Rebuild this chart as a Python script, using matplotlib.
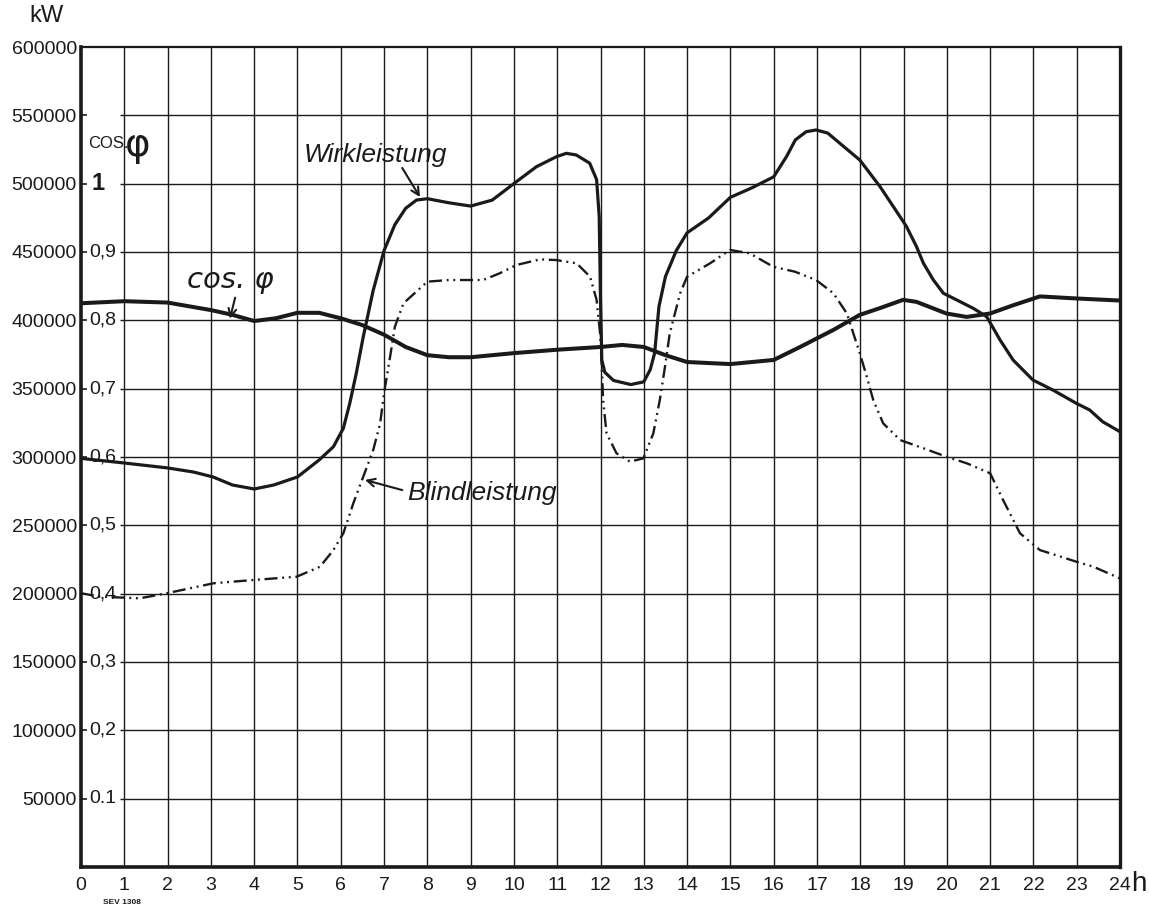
import matplotlib
matplotlib.use("Agg")
import matplotlib.pyplot as plt

plt.rcParams['font.family'] = ['Liberation Sans', 'DejaVu Sans']

# ---- data ----
wirk_h = [0, 1, 2, 2.6, 3.05, 3.5, 4.0, 4.45, 5.0, 5.5, 5.83, 6.06, 6.21, 6.36, 6.52, 6.75,
          7.0, 7.25, 7.5, 7.75, 8.0, 8.5, 9.0, 9.5, 10.06, 10.52, 10.98, 11.21, 11.44, 11.75,
          11.91, 11.97, 12.0, 12.03, 12.1, 12.3, 12.7, 13.0, 13.15, 13.25, 13.35, 13.5, 13.75,
          14.0, 14.5, 15.0, 15.5, 16.0, 16.3, 16.5, 16.75, 16.98, 17.25, 17.53, 17.99, 18.46,
          18.92, 19.07, 19.3, 19.46, 19.69, 19.92, 20.23, 20.61, 20.92, 21.23, 21.53, 21.99,
          22.45, 22.99, 23.3, 23.6, 24.0]
wirk_kw = [299000, 295600, 292000, 289000, 285400, 279500, 276600, 279500, 285400, 297800,
           307500, 321000, 339500, 361500, 388000, 422000, 451000, 470000, 482000, 488000,
           489000, 486000, 483600, 488000, 501500, 512400, 519700, 522200, 521000, 515000,
           503000, 476000, 415000, 371000, 362000, 356000, 353000, 355000, 364000, 376000,
           410000, 432000, 451000, 464000, 475000, 490000, 497000, 505000, 520000, 532000,
           538000, 539300, 537000, 529500, 517300, 497700, 475800, 468500, 453900, 441700,
           429500, 419800, 414900, 408800, 402700, 385600, 371000, 356300, 349000, 339300,
           334400, 325800, 318500]

blind_h = [0, 0.44, 1.36, 1.98, 3.06, 3.98, 4.98, 5.52, 5.83, 6.06, 6.29, 6.52, 6.75, 6.91,
           7.0, 7.14, 7.25, 7.45, 8.0, 8.5, 9.29, 9.67, 10.06, 10.6, 10.98, 11.45, 11.76,
           11.91, 11.99, 12.03, 12.06, 12.14, 12.37, 12.68, 12.99, 13.22, 13.37, 13.49, 13.6,
           13.84, 14.0, 14.53, 14.99, 15.45, 15.99, 16.49, 16.98, 17.38, 17.69, 17.84, 17.99,
           18.15, 18.3, 18.53, 18.92, 19.46, 19.99, 20.46, 21.0, 21.3, 21.69, 22.15, 22.99,
           23.38, 23.99]
blind_kw = [200300, 197800, 196600, 200300, 207600, 210000, 212400, 219700, 231900, 244200,
            266100, 285600, 305100, 324600, 346600, 373400, 395300, 412500, 428300, 429500,
            429500, 434400, 440500, 444600, 444100, 441700, 431900, 414900, 390500, 366100,
            341700, 317300, 302700, 296600, 299000, 317300, 341700, 366100, 390500, 419800,
            431900, 441700, 451500, 449000, 439200, 435600, 429500, 419800, 405100, 390500,
            375900, 358800, 341700, 324600, 312400, 306400, 300200, 295400, 288100, 268500,
            244200, 231900, 223400, 219800, 211300]

cos_h = [0, 1, 2, 3, 3.5, 4, 4.5, 5, 5.5, 6, 6.5, 7, 7.5, 8, 8.5, 9, 10, 11, 12, 12.5, 13,
         13.5, 14, 15, 16, 16.61, 17.38, 17.99, 18.46, 18.99, 19.3, 19.99, 20.46, 21.0, 21.53,
         22.15, 22.99, 23.99]
cos_v = [0.825, 0.828, 0.826, 0.815, 0.808, 0.799, 0.803, 0.811, 0.811, 0.803, 0.793, 0.779,
         0.761, 0.749, 0.746, 0.746, 0.752, 0.757, 0.761, 0.764, 0.761, 0.749, 0.739, 0.736,
         0.742, 0.761, 0.786, 0.808, 0.818, 0.830, 0.827, 0.810, 0.805, 0.810, 0.822, 0.835,
         0.832, 0.829]

hour_ticks = list(range(0, 25))
kw_ticks = list(range(50000, 600001, 50000))
kw_labels = ['50000', '100000', '150000', '200000', '250000', '300000', '350000',
             '400000', '450000', '500000', '550000', '600000']
cos_ticks = [0.1, 0.2, 0.3, 0.4, 0.5, 0.6, 0.7, 0.8, 0.9, 1.0]
cos_labels = ['0.1', '0,2', '0,3', '0,4', '0,5', '0,6', '0,7', '0,8', '0,9', '1']

# ---- figure ----
fig = plt.figure(figsize=(11.49, 9.08), dpi=100)
ax = fig.add_axes([81/1149, 41/908, 1039/1149, 820/908])
ax.set_xlim(0, 24)
ax.set_ylim(0, 600000)

ink = '#1a1a1a'
# grid
ax.vlines(hour_ticks[1:-1], 0, 600000, colors=ink, lw=1.0, zorder=1)
ax.hlines(kw_ticks[:-1], 0.9, 24, colors=ink, lw=1.0, zorder=1)

for side, lw in [('left', 2.6), ('bottom', 2.6), ('right', 2.4), ('top', 1.6)]:
    ax.spines[side].set_linewidth(lw)
    ax.spines[side].set_color(ink)

ax.set_yticks(kw_ticks)
ax.set_yticklabels(kw_labels)
ax.set_xticks(hour_ticks)
ax.set_xticklabels([str(h) for h in hour_ticks])
ax.tick_params(axis='y', direction='in', length=4, width=1.2, pad=3, labelsize=14,
               colors=ink)
ax.tick_params(axis='x', length=0, pad=7, labelsize=14, colors=ink)

ax.plot(wirk_h, wirk_kw, color=ink, lw=2.3, solid_joinstyle='round',
        solid_capstyle='round', zorder=3)
ax.plot(blind_h, blind_kw, color=ink, lw=1.7,
        linestyle=(0, (5.5, 2.0, 0.8, 2.0, 0.8, 2.0)), zorder=3)

ax2 = ax.twinx()
ax2.set_ylim(0, 1.2)
ax2.set_yticks([])
for s in ax2.spines.values():
    s.set_visible(False)
ax2.plot(cos_h, cos_v, color=ink, lw=2.9, solid_joinstyle='round',
         solid_capstyle='round', zorder=3)

for v, lab in zip(cos_ticks, cos_labels):
    if lab == '1':
        ax2.text(0.25, v, lab, va='center', ha='left', fontsize=17, fontweight='bold',
                 color=ink)
    else:
        ax2.text(0.2, v, lab, va='center', ha='left', fontsize=14, color=ink)

# cos phi axis title
ax2.text(0.17, 1.052, 'COS.', va='baseline', ha='left', fontsize=12, color=ink)
ax2.text(1.02, 1.057, 'φ', va='center', ha='left', fontsize=28, color=ink,
         family=['DejaVu Sans'])

# annotations
arrow = dict(arrowstyle='->', lw=1.5, color=ink, mutation_scale=14, shrinkA=0, shrinkB=0)
ax.annotate('', xy=(7.83, 490200), xytext=(7.42, 511500), arrowprops=arrow)
ax.text(6.81, 515850, 'Wirkleistung', ha='center', va='baseline', fontsize=19,
        style='italic', color=ink)
ax.annotate('', xy=(3.44, 401200), xytext=(3.56, 416600), arrowprops=arrow)
ax.text(3.44, 423700, 'cos. φ', ha='center', va='baseline', fontsize=21,
        style='italic', color=ink, family=['DejaVu Sans'])
ax.annotate('', xy=(6.56, 283200), xytext=(7.42, 275800), arrowprops=arrow)
ax.text(7.53, 268500, 'Blindleistung', ha='left', va='baseline', fontsize=19,
        style='italic', color=ink)

fig.text(46/1149, 1 - 16/908, 'kW', ha='center', va='center', fontsize=17, color=ink)
fig.text(1139/1149, 1 - 884/908, 'h', ha='center', va='center', fontsize=20, color=ink)
fig.text(122/1149, 1 - 902/908, 'SEV 1308', ha='center', va='center', fontsize=6,
         fontweight='bold', color=ink)

fig.savefig('out.png', dpi=100)
